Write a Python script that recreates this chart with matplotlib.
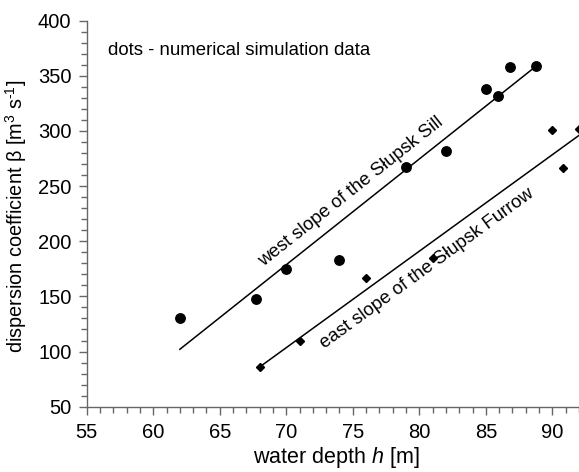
import numpy as np
import matplotlib
matplotlib.use("Agg")
import matplotlib.pyplot as plt
from matplotlib.ticker import MultipleLocator

plt.rcParams['font.family'] = ['Liberation Sans', 'DejaVu Sans']
plt.rcParams['mathtext.fontset'] = 'custom'
plt.rcParams['mathtext.rm'] = 'Liberation Sans'
plt.rcParams['mathtext.it'] = 'Liberation Sans:italic'

# west slope (dots)
west_h = [62.0, 67.7, 70.0, 74.0, 79.0, 82.0, 85.0, 85.9, 86.8, 88.8]
west_beta = [130, 148, 175, 183, 267, 282, 338, 332, 358, 359]
west_fit_h = [62.0, 88.8]
west_fit_beta = [102, 359]

# east slope (diamonds)
east_h = [68.0, 71.0, 76.0, 81.0, 90.0, 90.8, 92.0]
east_beta = [86, 110, 167, 185, 301, 266, 302]
east_fit_h = [68.0, 92.0]
east_fit_beta = [86, 296]

fig = plt.figure(figsize=(5.79, 4.72), dpi=100)
ax = fig.add_axes([0.1497, 0.1384, 0.8503, 0.8178])

ax.plot(west_fit_h, west_fit_beta, color='black', lw=1.1)
ax.plot(east_fit_h, east_fit_beta, color='black', lw=1.1)
ax.plot(west_h, west_beta, 'o', color='black', ms=6.8)
ax.plot(east_h, east_beta, 'D', color='black', ms=4.4)

ax.set_xlim(55, 92)
ax.set_ylim(50, 400)
ax.xaxis.set_major_locator(MultipleLocator(5))
ax.xaxis.set_minor_locator(MultipleLocator(1))
ax.yaxis.set_major_locator(MultipleLocator(50))
ax.yaxis.set_minor_locator(MultipleLocator(10))

for s in ['top', 'right']:
    ax.spines[s].set_visible(False)
for s in ['left', 'bottom']:
    ax.spines[s].set_color('#666666')
    ax.spines[s].set_linewidth(1.0)
ax.tick_params(which='major', length=6, width=1, color='#666666', labelsize=14.5, direction='out')
ax.tick_params(which='minor', length=4, width=1, color='#666666', direction='out')
ax.tick_params(axis='x', which='major', pad=6)
ax.tick_params(axis='y', which='major', pad=5)

ax.set_xlabel('water depth $\\it{h}$ [m]', fontsize=15.5)
ax.set_ylabel('dispersion coefficient β [m$^3$ s$^{\\text{-}1}$]', fontsize=14.3)
ax.xaxis.set_label_coords(0.507, -0.100)
ax.yaxis.set_label_coords(-0.117, 0.493)

ax.text(56.6, 373, 'dots - numerical simulation data', fontsize=13.4, va='center', ha='left')
ax.text(74.9, 244.6, 'west slope of the Słupsk Sill', fontsize=13.4, rotation=38.4,
        rotation_mode='anchor', ha='center', va='center')
ax.text(80.6, 175.7, 'east slope of the Słupsk Furrow', fontsize=13.4, rotation=36.1,
        rotation_mode='anchor', ha='center', va='center')

fig.savefig('out.png', dpi=100)
